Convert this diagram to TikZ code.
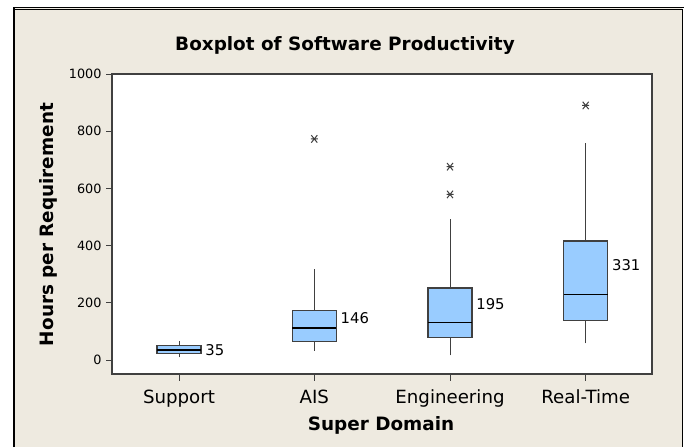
\documentclass[tikz,border=0pt]{standalone}
\usepackage{fontspec}
\setmainfont{DejaVu Sans}
\definecolor{chartbg}{RGB}{238,234,224}
\definecolor{boxblue}{RGB}{153,204,255}
\definecolor{framegray}{RGB}{64,64,64}
\newcommand{\outlier}[2]{%
  \draw[whisker] (#1,#2) ++(-3.5,0) -- ++(7,0)
    (#1,#2) ++(-3,-13) -- ++(6,26)
    (#1,#2) ++(-3,13) -- ++(6,-26);}

\begin{document}
\begin{tikzpicture}[x=0.5pt,y=-0.5pt]
        \tikzstyle{title label}=[font=\bfseries\fontsize{9.2}{11}\selectfont, anchor=base]
        \tikzstyle{cat label}=[font=\fontsize{9.1}{11}\selectfont, anchor=base]
        \tikzstyle{tick label}=[font=\fontsize{6.4}{7}\selectfont, anchor=east, inner sep=2pt]
        \tikzstyle{mean label}=[font=\fontsize{7.4}{8}\selectfont, anchor=west, inner sep=2pt]
        \tikzstyle{box}=[fill=boxblue, draw=framegray, line width=0.65pt]
        \tikzstyle{median}=[draw=black, line width=0.55pt]
        \tikzstyle{whisker}=[draw=framegray, line width=0.5pt]
        % page and chart frame
        \useasboundingbox (0,0) rectangle (684,447);
        \fill[chartbg] (14,8) rectangle (682,447);
        \draw[line width=1.2pt] (14,447) -- (14,7);
        \draw[line width=0.5pt] (14,7) -- (684,7);
        \draw[line width=0.5pt] (14,9.5) -- (682,9.5) -- (682,447);
        \draw[fill=white, draw=framegray, line width=0.7pt] (112,74) rectangle (652,374);
        % titles
        \node[title label] (title) at (345,50) {Boxplot of Software Productivity};
        \node[title label] (xlabel) at (381,430) {Super Domain};
        \node[title label, rotate=90] (ylabel) at (53,224.5) {Hours per Requirement};
        % categories
        \foreach \x/\name [count=\i] in {179/Support, 314.3/AIS, 450/Engineering, 585.7/Real-Time} {
          \draw[whisker] (\x,374) -- (\x,381);
          \node[cat label] (cat\i) at (\x,403) {\name};
        }
        % data part, y in hours
        \begin{scope}[shift={(0,360)}, y=0.143pt]
          \foreach \v in {0,200,...,1000}
            \draw[whisker] (112,\v) -- (106,\v) node[tick label] (tick\v) {\v};
          \foreach \x/\lo/\qa/\md/\qb/\hi/\mn [count=\i] in
              {179/9/23/35/51/67/35, 314.3/33/64/112/172/317/146,
               450/16/78/132/252/494/195, 585.7/58/139/228/416/758/331} {
            \draw[whisker] (\x,\lo) -- (\x,\qa) (\x,\qb) -- (\x,\hi);
            \draw[box] (\x-22,\qa) rectangle (\x+22,\qb);
            \draw[median] (\x-22,\md) -- (\x+22,\md);
            \node[mean label] (mean\i) at (\x+22,\mn) {\mn};
          }
          \outlier{314.3}{773}
          \outlier{450}{676}
          \outlier{450}{579}
          \outlier{585.7}{890}
        \end{scope}
\end{tikzpicture}
\end{document}
